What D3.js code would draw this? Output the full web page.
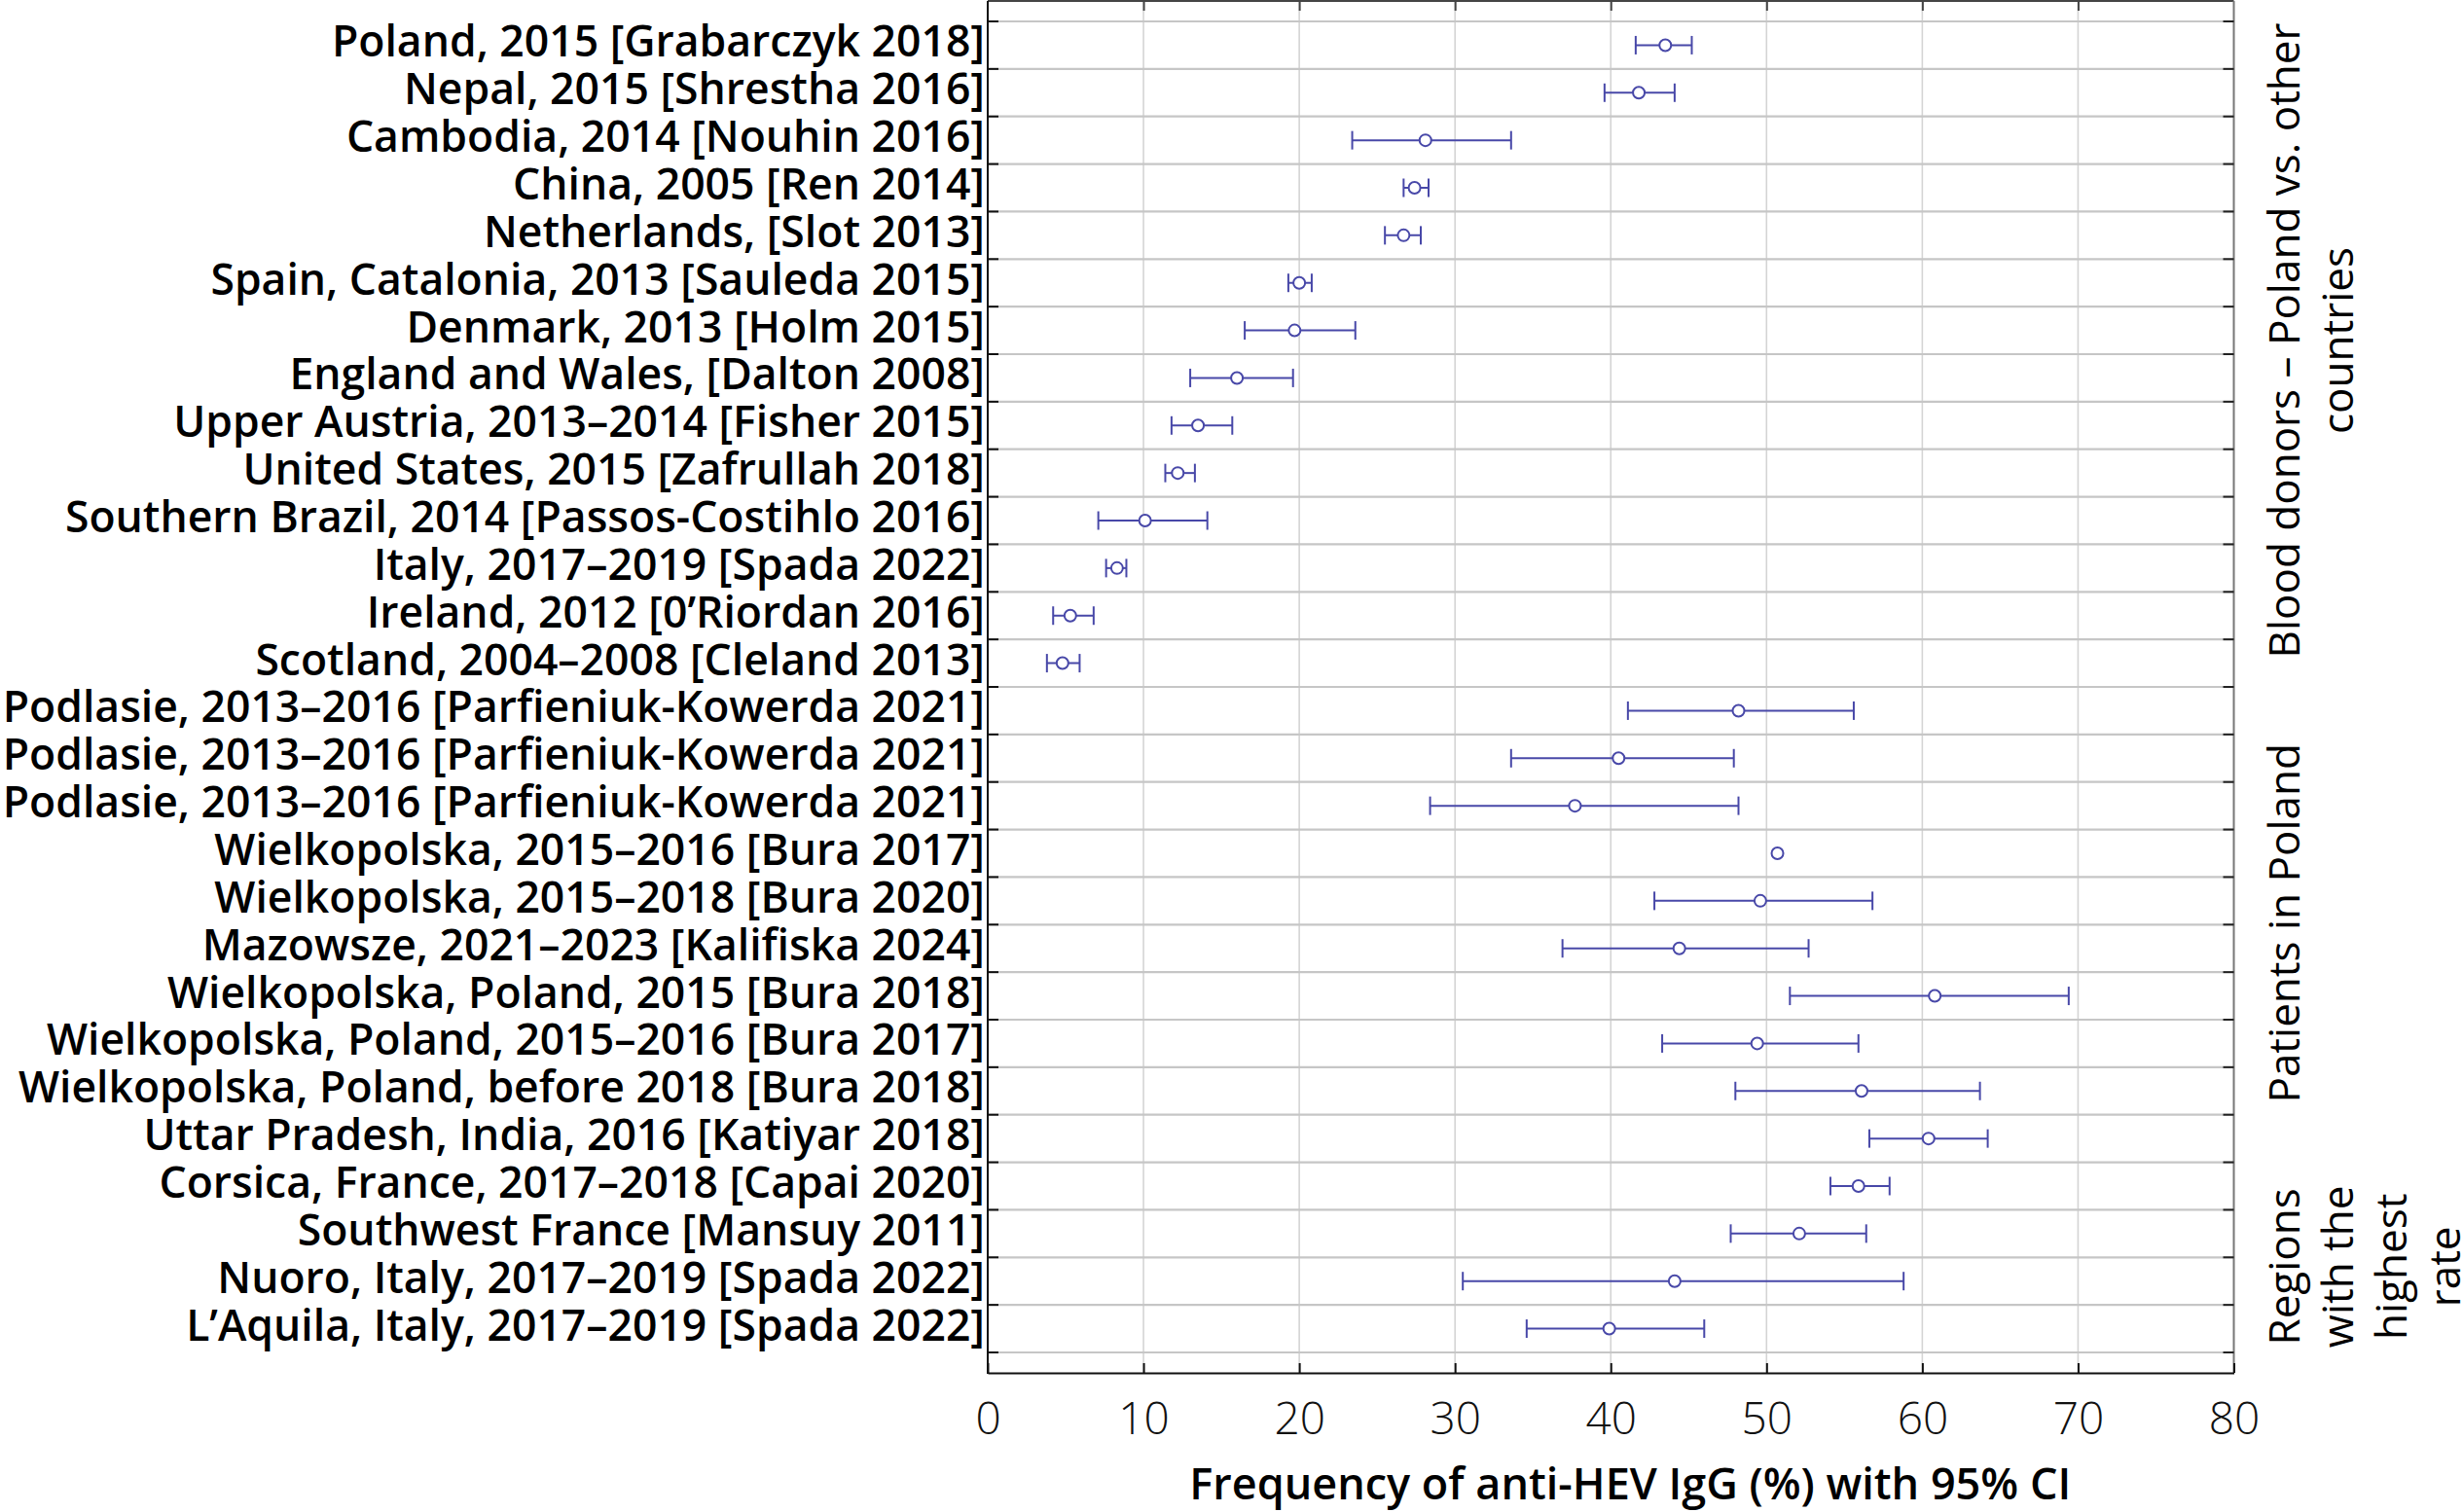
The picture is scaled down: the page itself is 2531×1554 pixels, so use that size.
<!DOCTYPE html>
<html>
<head>
<meta charset="utf-8">
<script src="https://cdn.jsdelivr.net/npm/d3@7"></script>
<style>
  body { margin: 0; background: #fff; }
  svg { display: block; }
</style>
</head>
<body>
<div id="chart"></div>
<script>
// study labels, top to bottom
var studies = [
  "Poland, 2015 [Grabarczyk 2018]",
  "Nepal, 2015 [Shrestha 2016]",
  "Cambodia, 2014 [Nouhin 2016]",
  "China, 2005 [Ren 2014]",
  "Netherlands, [Slot 2013]",
  "Spain, Catalonia, 2013 [Sauleda 2015]",
  "Denmark, 2013 [Holm 2015]",
  "England and Wales, [Dalton 2008]",
  "Upper Austria, 2013–2014 [Fisher 2015]",
  "United States, 2015 [Zafrullah 2018]",
  "Southern Brazil, 2014 [Passos-Costihlo 2016]",
  "Italy, 2017–2019 [Spada 2022]",
  "Ireland, 2012 [0’Riordan 2016]",
  "Scotland, 2004–2008 [Cleland 2013]",
  "Podlasie, 2013–2016 [Parfieniuk-Kowerda 2021]",
  "Podlasie, 2013–2016 [Parfieniuk-Kowerda 2021]",
  "Podlasie, 2013–2016 [Parfieniuk-Kowerda 2021]",
  "Wielkopolska, 2015–2016 [Bura 2017]",
  "Wielkopolska, 2015–2018 [Bura 2020]",
  "Mazowsze, 2021–2023 [Kalifiska 2024]",
  "Wielkopolska, Poland, 2015 [Bura 2018]",
  "Wielkopolska, Poland, 2015–2016 [Bura 2017]",
  "Wielkopolska, Poland, before 2018 [Bura 2018]",
  "Uttar Pradesh, India, 2016 [Katiyar 2018]",
  "Corsica, France, 2017–2018 [Capai 2020]",
  "Southwest France [Mansuy 2011]",
  "Nuoro, Italy, 2017–2019 [Spada 2022]",
  "L’Aquila, Italy, 2017–2019 [Spada 2022]"
];

// anti-HEV IgG frequency (%) and 95% CI
var estimate = [43.5, 41.8, 28.1, 27.4, 26.7, 20.0, 19.7, 16.0, 13.5, 12.2, 10.1, 8.3, 5.3, 4.8,
                48.2, 40.5, 37.7, 50.7, 49.6, 44.4, 60.8, 49.4, 56.1,
                60.4, 55.9, 52.1, 44.1, 39.9];
var ciLow    = [41.6, 39.6, 23.4, 26.7, 25.5, 19.3, 16.5, 13.0, 11.8, 11.4, 7.1, 7.6, 4.2, 3.8,
                41.1, 33.6, 28.4, null, 42.8, 36.9, 51.5, 43.3, 48.0,
                56.6, 54.1, 47.7, 30.5, 34.6];
var ciHigh   = [45.2, 44.1, 33.6, 28.3, 27.8, 20.8, 23.6, 19.6, 15.7, 13.3, 14.1, 8.9, 6.8, 5.9,
                55.6, 47.9, 48.2, null, 56.8, 52.7, 69.4, 55.9, 63.7,
                64.2, 57.9, 56.4, 58.8, 46.0];

var xTicks = [0, 10, 20, 30, 40, 50, 60, 70, 80];
var xTitle = "Frequency of anti-HEV IgG (%) with 95% CI";

// right-hand group labels: first and last row of each group
var groupNames = [
  ["Blood donors – Poland vs. other", "countries"],
  ["Patients in Poland"],
  ["Regions", "with the", "highest", "rate"]
];
var groupFirst = [0, 14, 23];
var groupLast  = [13, 22, 27];

var opts = {
  width: 2531,
  height: 1554,
  plotLeft: 1015,
  plotRight: 2295.5,
  plotTop: 1,
  plotBottom: 1411,
  tick: 10,
  color: "#4848a8",
  cap: 9.5,
  radius: 6,
  groupNudge: [-14, 23, 34],
  groupX: 2363,
  groupLine: 55
};

var rows = estimate.map(function(v, i) {
  return { id: i, label: studies[i], value: v, lo: ciLow[i], hi: ciHigh[i] };
});

var svg = d3.select("#chart").append("svg")
  .attr("width", opts.width)
  .attr("height", opts.height);

var x = d3.scaleLinear()
  .domain([xTicks[0], xTicks[xTicks.length - 1]])
  .range([opts.plotLeft, opts.plotRight]);

var y = d3.scaleBand()
  .domain(rows.map(function(d) { return d.id; }))
  .range([opts.plotTop, opts.plotBottom])
  .paddingInner(0)
  .paddingOuter(0.43);

var bw = y.bandwidth();
var edges = rows.map(function(d) { return y(d.id); });
edges.push(y(rows[rows.length - 1].id) + bw);

// grid
svg.append("g").selectAll("line.vgrid")
  .data(xTicks.slice(1, -1))
  .enter().append("line")
  .attr("x1", function(d) { return x(d); })
  .attr("x2", function(d) { return x(d); })
  .attr("y1", opts.plotTop)
  .attr("y2", opts.plotBottom)
  .attr("stroke", "#d4d4d4")
  .attr("stroke-width", 1.6);

svg.append("g").selectAll("line.hgrid")
  .data(edges)
  .enter().append("line")
  .attr("x1", opts.plotLeft)
  .attr("x2", opts.plotRight)
  .attr("y1", function(d) { return d; })
  .attr("y2", function(d) { return d; })
  .attr("stroke", "#c6c6c6")
  .attr("stroke-width", 2.2);

// frame
var frame = svg.append("g");
frame.append("line")
  .attr("x1", opts.plotLeft).attr("x2", opts.plotRight)
  .attr("y1", opts.plotTop).attr("y2", opts.plotTop)
  .attr("stroke", "#444").attr("stroke-width", 2);
frame.append("line")
  .attr("x1", opts.plotRight).attr("x2", opts.plotRight)
  .attr("y1", opts.plotTop).attr("y2", opts.plotBottom)
  .attr("stroke", "#777").attr("stroke-width", 2);
frame.append("line")
  .attr("x1", opts.plotLeft).attr("x2", opts.plotLeft)
  .attr("y1", opts.plotTop).attr("y2", opts.plotBottom + 1)
  .attr("stroke", "#111").attr("stroke-width", 2);

// bottom axis
var xAxis = svg.append("g")
  .attr("transform", "translate(0," + opts.plotBottom + ")")
  .call(d3.axisBottom(x).tickValues(xTicks).tickSize(-opts.tick).tickPadding(30).tickSizeOuter(0));
xAxis.select(".domain").attr("stroke", "#111").attr("stroke-width", 2);
xAxis.selectAll(".tick line").attr("stroke", "#111").attr("stroke-width", 2);
xAxis.selectAll(".tick text")
  .attr("fill", "#111")
  .style("font-family", "'Open Sans', 'Noto Sans', sans-serif")
  .style("font-weight", 300)
  .style("font-size", "46px");

// top axis ticks
var xTop = svg.append("g")
  .attr("transform", "translate(0," + opts.plotTop + ")")
  .call(d3.axisTop(x).tickValues(xTicks.slice(1, -1)).tickSize(-opts.tick).tickFormat("").tickSizeOuter(0));
xTop.select(".domain").remove();
xTop.selectAll(".tick line").attr("stroke", "#444").attr("stroke-width", 2);

// y ticks on band edges, left and right
svg.append("g").selectAll("line")
  .data(edges)
  .enter().append("line")
  .attr("x1", opts.plotLeft)
  .attr("x2", opts.plotLeft + 11)
  .attr("y1", function(d) { return d; })
  .attr("y2", function(d) { return d; })
  .attr("stroke", "#111").attr("stroke-width", 2);

svg.append("g").selectAll("line")
  .data(edges)
  .enter().append("line")
  .attr("x1", opts.plotRight - 11)
  .attr("x2", opts.plotRight)
  .attr("y1", function(d) { return d; })
  .attr("y2", function(d) { return d; })
  .attr("stroke", "#222").attr("stroke-width", 2);

// study labels
var yAxis = svg.append("g")
  .attr("transform", "translate(" + (opts.plotLeft - 3) + ",0)")
  .call(d3.axisLeft(y).tickSize(0).tickPadding(0)
    .tickFormat(function(i) { return studies[i]; }));
yAxis.select(".domain").remove();
yAxis.selectAll(".tick text")
  .attr("dy", "0.27em")
  .attr("fill", "#000")
  .style("font-family", "'Open Sans', 'Noto Sans', sans-serif")
  .style("font-weight", 600)
  .style("font-size", "44.5px");

// error bars
var bars = svg.append("g").selectAll("g.study")
  .data(rows)
  .enter().append("g")
  .attr("class", "study")
  .attr("transform", function(d) { return "translate(0," + (y(d.id) + bw / 2) + ")"; });

var withCi = bars.filter(function(d) { return d.lo != null; });

withCi.append("line")
  .attr("x1", function(d) { return x(d.lo); })
  .attr("x2", function(d) { return x(d.hi); })
  .attr("stroke", opts.color).attr("stroke-width", 2);

withCi.selectAll("line.cap")
  .data(function(d) { return [d.lo, d.hi]; })
  .enter().append("line")
  .attr("class", "cap")
  .attr("x1", function(v) { return x(v); })
  .attr("x2", function(v) { return x(v); })
  .attr("y1", -opts.cap)
  .attr("y2", opts.cap)
  .attr("stroke", opts.color).attr("stroke-width", 2);

bars.append("circle")
  .attr("cx", function(d) { return x(d.value); })
  .attr("r", opts.radius)
  .attr("fill", "#fff")
  .attr("stroke", opts.color)
  .attr("stroke-width", 2);

// group labels on the right
groupNames.forEach(function(lines, g) {
  var top = y(groupFirst[g]);
  var bottom = y(groupLast[g]) + bw;
  var cy = (top + bottom) / 2 + opts.groupNudge[g];
  var t = svg.append("text")
    .attr("transform", "translate(" + opts.groupX + "," + cy + ") rotate(-90)")
    .attr("text-anchor", "middle")
    .attr("fill", "#000")
    .style("font-family", "'Open Sans', 'Noto Sans', sans-serif")
    .style("font-size", "44px");
  t.selectAll("tspan")
    .data(lines)
    .enter().append("tspan")
    .attr("x", 0)
    .attr("y", function(d, i) { return i * opts.groupLine; })
    .text(function(d) { return d; });
});

// x axis title
svg.append("text")
  .attr("x", (opts.plotLeft + opts.plotRight) / 2 + 20)
  .attr("y", 1541)
  .attr("text-anchor", "middle")
  .attr("fill", "#000")
  .style("font-family", "'Open Sans', 'Noto Sans', sans-serif")
  .style("font-weight", 600)
  .style("font-size", "45px")
  .text(xTitle);
</script>
</body>
</html>
